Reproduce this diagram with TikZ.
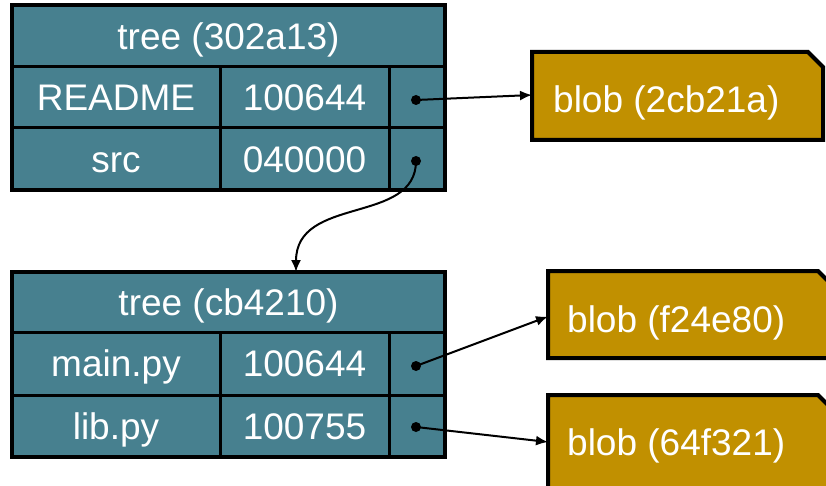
\documentclass[tikz,border=0pt]{standalone}
\usepackage{fontspec}
\setmainfont{Liberation Sans}
\usetikzlibrary{arrows.meta}
\definecolor{treeteal}{HTML}{47808F}
\definecolor{blobgold}{HTML}{C19000}
\newcommand\bigtxt{\fontsize{37}{41}\selectfont}
\tikzset{
  cell/.style={draw=black, line width=3pt, fill=treeteal, text=white, inner sep=0pt, outer sep=0pt,
    font=\bigtxt, text height=26.5pt, text depth=0pt, align=center},
  outerbox/.style={draw=black, line width=4pt},
  ptrdot/.style={circle, fill=black, inner sep=0pt, minimum size=10pt},
  blobbox/.style={inner sep=0pt, outer sep=0pt, draw=none},
  blobshape/.style={draw=black, line width=4pt, fill=blobgold, line join=miter},
  blobtxt/.style={text=white, font=\bigtxt, inner sep=0pt, anchor=base west},
  link/.style={draw=black, line width=2pt, -{Latex[length=12pt,width=10pt]}}
}
\begin{document}
\begin{tikzpicture}[x=1pt,y=-1pt]
\useasboundingbox (0,0) rectangle (826,486);
\clip (0,0) rectangle (826,486);
% top tree
\node[cell, minimum width=433pt, minimum height=62pt] (t1h) at (228.5,36) {tree (302a13)};
\node[cell, minimum width=208pt, minimum height=61pt] (t1n1) at (116,97.5) {README};
\node[cell, minimum width=169pt, minimum height=61pt] (t1m1) at (304.5,97.5) {100644};
\node[cell, minimum width=56pt, minimum height=61pt] (t1p1) at (417,97.5) {};
\node[cell, minimum width=208pt, minimum height=62pt] (t1n2) at (116,159) {src};
\node[cell, minimum width=169pt, minimum height=62pt] (t1m2) at (304.5,159) {040000};
\node[cell, minimum width=56pt, minimum height=62pt] (t1p2) at (417,159) {};
\draw[outerbox] (t1h.north west) rectangle (t1p2.south east);
% bottom tree
\node[cell, minimum width=433pt, minimum height=60pt] (t2h) at (228.5,302) {tree (cb4210)};
\node[cell, minimum width=208pt, minimum height=63pt] (t2n1) at (116,363.5) {main.py};
\node[cell, minimum width=169pt, minimum height=63pt] (t2m1) at (304.5,363.5) {100644};
\node[cell, minimum width=56pt, minimum height=63pt] (t2p1) at (417,363.5) {};
\node[cell, minimum width=208pt, minimum height=62pt] (t2n2) at (116,426) {lib.py};
\node[cell, minimum width=169pt, minimum height=62pt] (t2m2) at (304.5,426) {100755};
\node[cell, minimum width=56pt, minimum height=62pt] (t2p2) at (417,426) {};
\draw[outerbox] (t2h.north west) rectangle (t2p2.south east);
% pointer dots
\node[ptrdot] (d1) at (416,100) {};
\node[ptrdot] (d2) at (416,161) {};
\node[ptrdot] (d3) at (416,366) {};
\node[ptrdot] (d4) at (416,427) {};
% blobs
\node[blobbox, minimum width=291pt, minimum height=88pt] (b1) at (677.5,96) {};
\node[blobbox, minimum width=285pt, minimum height=87pt] (b2) at (690.5,314.5) {};
\node[blobbox, minimum width=285pt, minimum height=97pt] (b3) at (690.5,443.5) {};
\foreach \b in {b1,b2,b3}{
  \path[blobshape] (\b.south west) -- (\b.north west) -- ([xshift=-15pt]\b.north east)
    -- ([yshift=-15pt]\b.north east) -- (\b.south east) -- cycle;
}
\node[blobtxt] (b1t) at (553,113) {blob (2cb21a)};
\node[blobtxt] (b2t) at (567,332) {blob (f24e80)};
\node[blobtxt] (b3t) at (567,455) {blob (64f321)};
% connectors
\coordinate (c1) at (296,272);
\draw[link] (d1.center) -- ([yshift=1pt]b1.west);
\draw[link] (d2.center) .. controls (416,225) and (296,195) .. (c1);
\draw[link] (d3.center) -- ([yshift=-2pt]b2.west);
\draw[link] (d4.center) -- ([yshift=1.5pt]b3.west);
\end{tikzpicture}
\end{document}
